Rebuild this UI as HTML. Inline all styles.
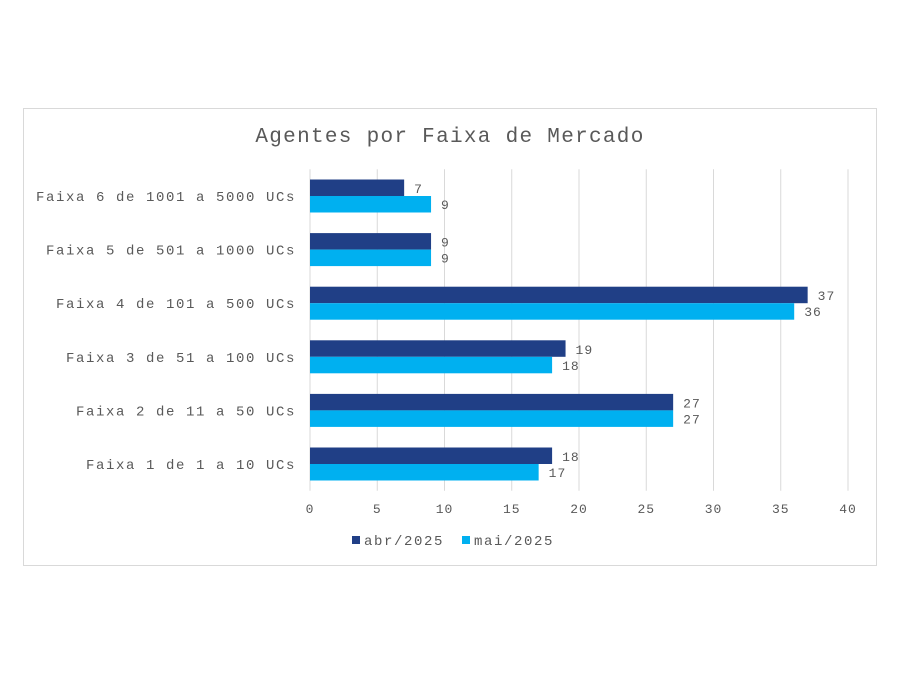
<!DOCTYPE html>
<html><head><meta charset="utf-8"><style>
body{margin:0;background:#fff;}
text{font-family:"Liberation Mono","DejaVu Sans Mono",monospace;}
</style></head><body>
<svg width="900" height="675" xmlns="http://www.w3.org/2000/svg">
<rect x="23.5" y="108.5" width="853" height="457" fill="#fff" stroke="#d9d9d9"/>
<text x="450" y="142" text-anchor="middle" font-size="21" letter-spacing="1.3" fill="#595959">Agentes por Faixa de Mercado</text>
<g id="grid"></g><g id="bars"></g><g id="labels"></g>
<g>
<rect x="352" y="536" width="8" height="8" fill="#203f86"/>
<text x="364" y="545" font-size="14" letter-spacing="1.6" fill="#595959">abr/2025</text>
<rect x="462" y="536" width="8" height="8" fill="#00b0f0"/>
<text x="474" y="545" font-size="14" letter-spacing="1.6" fill="#595959">mai/2025</text>
</g>
</svg>
<script>
const categories=["Faixa 6 de 1001 a 5000 UCs","Faixa 5 de 501 a 1000 UCs","Faixa 4 de 101 a 500 UCs","Faixa 3 de 51 a 100 UCs","Faixa 2 de 11 a 50 UCs","Faixa 1 de 1 a 10 UCs"];
const abr=[7,9,37,19,27,18];
const mai=[9,9,36,18,27,17];
const ticks=[0,5,10,15,20,25,30,35,40];
const NS="http://www.w3.org/2000/svg";
const x0=310,x1=848,yTop=169.2,yBot=490.8,xMax=40;
const xs=v=>x0+(x1-x0)*v/xMax;
const step=(yBot-yTop)/categories.length;
const yc=i=>yTop+step*(i+0.5);
function mk(tag,attrs,parent){const e=document.createElementNS(NS,tag);for(const k in attrs)e.setAttribute(k,attrs[k]);document.getElementById(parent).appendChild(e);return e;}
ticks.forEach(t=>{
 const l=mk("line",{x1:xs(t),x2:xs(t),y1:yTop,y2:yBot,stroke:"#d9d9d9","stroke-width":1},"grid");
 
 
 const tx=mk("text",{x:xs(t),y:513,"text-anchor":"middle","font-size":13,"letter-spacing":1,fill:"#595959"},"labels");
 tx.textContent=t;
 
 
});
categories.forEach((c,i)=>{
 const y=yc(i);
 const ct=mk("text",{x:296,y:y+5,"text-anchor":"end","font-size":14,"letter-spacing":1.6,fill:"#595959"},"labels");
 ct.textContent=c;
 
 
 const b1=mk("rect",{x:x0,y:y-16.5,width:xs(abr[i])-x0,height:16.5,fill:"#203f86"},"bars");
 
 
 const b2=mk("rect",{x:x0,y:y,width:xs(mai[i])-x0,height:16.5,fill:"#00b0f0"},"bars");
 
 
 const v1=mk("text",{x:xs(abr[i])+10,y:y-3,"font-size":13,"letter-spacing":1,fill:"#595959"},"labels");
 v1.textContent=abr[i];
 
 
 const v2=mk("text",{x:xs(mai[i])+10,y:y+13,"font-size":13,"letter-spacing":1,fill:"#595959"},"labels");
 v2.textContent=mai[i];
 
 
});
</script>
</body></html>
